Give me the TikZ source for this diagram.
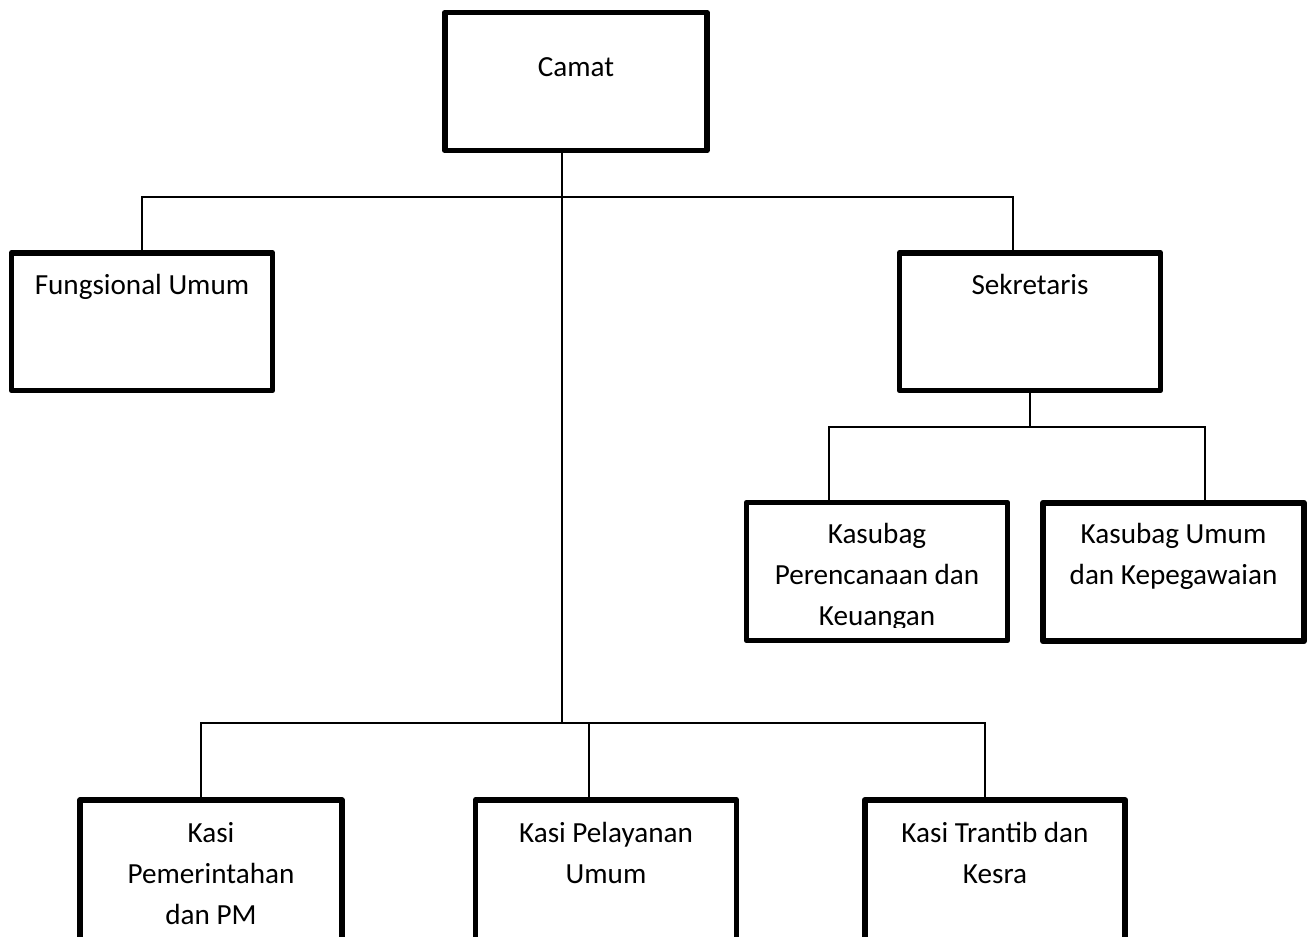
\documentclass[tikz,border=0pt]{standalone}
\usepackage{fontspec}
\setmainfont{Carlito}
\usetikzlibrary{positioning}

\tikzset{
    box/.style  = {draw, line width=3.3pt, line join=round, inner sep=0pt},
    conn/.style = {line width=0.9pt},
    lbl/.style  = {align=center, inner sep=0pt, anchor=base,
                   font=\fontsize{16.6}{23.2}\selectfont}
}

\begin{document}
\begin{tikzpicture}[x=0.02cm, y=-0.02cm]
    \useasboundingbox (0,0) rectangle (1313,937);
    \clip (0,0) rectangle (1313,937);

    % boxes
    \node[box, minimum width=5.24cm, minimum height=2.76cm] (camat) at ( 576,  81.5) {};
    \node[box, minimum width=5.22cm, minimum height=2.75cm] (fung)  at ( 142, 321.75) {};
    \node[box, minimum width=5.22cm, minimum height=2.75cm] (sek)   at (1030, 321.75) {};
    \node[box, minimum width=5.22cm, minimum height=2.76cm] (kas1)  at ( 877, 571.5) {};
    \node[box, minimum width=5.22cm, minimum height=2.77cm] (kas2)  at (1173.5, 572) {};
    \node[box, minimum width=5.24cm, minimum height=3.2cm]  (kasi1) at ( 211, 880) {};
    \node[box, minimum width=5.22cm, minimum height=3.2cm]  (kasi2) at ( 606, 880) {};
    \node[box, minimum width=5.21cm, minimum height=3.2cm]  (kasi3) at ( 995, 880) {};

    % texts (anchored at the baseline of the last line)
    \node[lbl] (camat-t) at ( 576,  76) {Camat};
    \node[lbl] (fung-t)  at ( 142, 294) {Fungsional Umum};
    \node[lbl] (sek-t)   at (1030, 294) {Sekretaris};
    \begin{scope}
        \clip (kas1.north west) rectangle (1010, 627);
        \node[lbl] (kas1-t) at ( 877, 625) {Kasubag\\Perencanaan dan\\Keuangan};
    \end{scope}
    \node[lbl] (kas2-t)  at (1173.5, 584) {Kasubag Umum\\dan Kepegawaian};
    \node[lbl] (kasi1-t) at ( 211, 924) {Kasi\\Pemerintahan\\dan PM};
    \node[lbl] (kasi2-t) at ( 606, 883) {Kasi Pelayanan\\Umum};
    \node[lbl] (kasi3-t) at ( 995, 883) {Kasi Trantib dan\\Kesra};

    % junctions
    \coordinate (top-c) at ( 562, 197);
    \coordinate (top-r) at (1013, 197);
    \coordinate (sek-l) at ( 829, 427);
    \coordinate (sek-r) at (1205, 427);
    \coordinate (bot-l) at ( 201, 723);
    \coordinate (bot-m) at ( 589, 723);
    \coordinate (bot-r) at ( 985, 723);
    \coordinate (bot-c) at ( 562, 723);

    % lines
    \draw[conn] (camat.south -| top-c) -- (bot-c);
    \draw[conn] (fung.north) |- (top-r) -- (sek.north -| top-r);
    \draw[conn] (sek.south) -- (sek.south |- sek-l);
    \draw[conn] (kas1.north -| sek-l) |- (sek-r) -- (kas2.north -| sek-r);
    \draw[conn] (kasi1.north -| bot-l) |- (bot-r) -- (kasi3.north -| bot-r);
    \draw[conn] (bot-m) -- (kasi2.north -| bot-m);
\end{tikzpicture}
\end{document}
